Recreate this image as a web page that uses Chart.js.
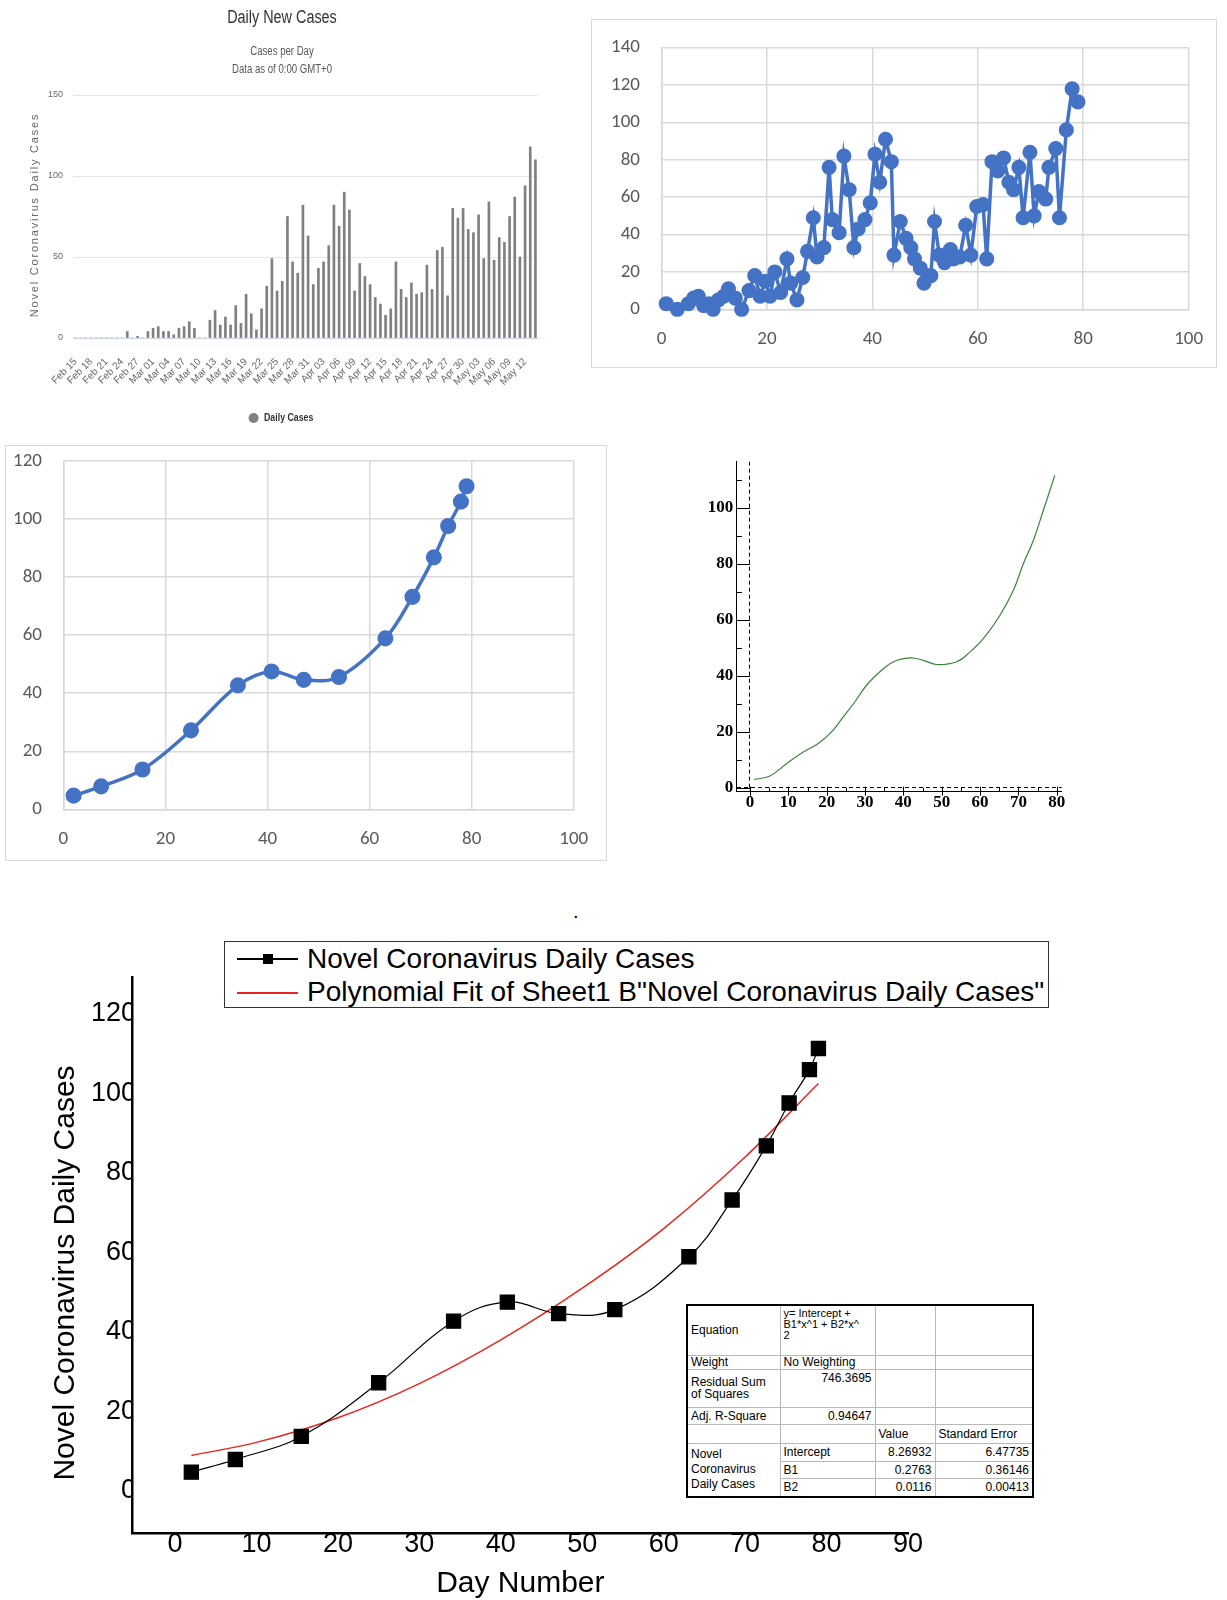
<!DOCTYPE html>
<html>
<head>
<meta charset="utf-8">
<title>Novel Coronavirus Daily Cases</title>
<script src="https://cdn.jsdelivr.net/npm/chart.js@4.4.1/dist/chart.umd.min.js"></script>
<style>
  html, body { margin: 0; padding: 0; background: #fff; }
  #page { position: relative; width: 1227px; height: 1600px; overflow: hidden; font-family: 'Liberation Sans', Arial, sans-serif; }
  .abs { position: absolute; }
  .frame { position: absolute; border: 1px solid #d9d9d9; }
  .frame canvas { display: block; }
  #fitLegend { left: 224px; top: 941px; width: 823px; height: 65px; border: 1.5px solid #333; background: #fff; }
  #fitLegend .keyLine { position: absolute; left: 12px; width: 61px; height: 1.5px; }
  #fitLegend .keyMark { position: absolute; left: 38px; width: 10px; height: 10px; background: #000; }
  #fitLegend .keyText { position: absolute; left: 82px; font-size: 28px; line-height: 30px; color: #000; white-space: nowrap; }
  #fitTable { left: 686px; top: 1304px; width: 346px; border-collapse: collapse; table-layout: fixed;
              border: 2px solid #000; background: #fff; font-size: 12px; color: #000; }
  #fitTable td { border: 1px solid #b8b8b8; padding: 0 3px; line-height: 12px; white-space: nowrap; overflow: hidden; vertical-align: middle; }
  #fitTable td.num { text-align: right; }
  #fitTable td.top { vertical-align: top; padding-top: 2px; }
</style>
</head>
<body>
<div id="page">
  <canvas id="barChart" class="abs" style="left:0;top:0" width="560" height="434"></canvas>

  <div class="frame" style="left:591px;top:19px">
    <canvas id="scatterChart" width="624" height="347"></canvas>
  </div>

  <div class="frame" style="left:5px;top:445px">
    <canvas id="smoothChart" width="600" height="414"></canvas>
  </div>

  <canvas id="curveChart" class="abs" style="left:690px;top:450px" width="380" height="370"></canvas>

  <span class="abs" style="left:573px;top:900px;font-size:20px">.</span>

  <canvas id="fitChart" class="abs" style="left:0;top:900px" width="1227" height="700"></canvas>

  <div id="fitLegend" class="abs">
    <span class="keyLine" style="top:16px;background:#000"></span>
    <span class="keyMark" style="top:12px"></span>
    <span class="keyText" style="top:2px">Novel Coronavirus Daily Cases</span>
    <span class="keyLine" style="top:50px;background:#e8261f"></span>
    <span class="keyText" style="top:35px">Polynomial Fit of Sheet1 B"Novel Coronavirus Daily Cases"</span>
  </div>

  <table id="fitTable" class="abs">
    <colgroup><col style="width:93px"><col style="width:95px"><col style="width:60px"><col style="width:98px"></colgroup>
    <tr style="height:50px"><td>Equation</td><td class="top" style="font-size:11px;line-height:11px">y= Intercept +<br>B1*x^1 + B2*x^<br>2</td><td></td><td></td></tr>
    <tr style="height:14px"><td>Weight</td><td>No Weighting</td><td></td><td></td></tr>
    <tr style="height:38px"><td>Residual Sum<br>of Squares</td><td class="num top">746.3695</td><td></td><td></td></tr>
    <tr style="height:17px"><td>Adj. R-Square</td><td class="num">0.94647</td><td></td><td></td></tr>
    <tr style="height:19px"><td></td><td></td><td>Value</td><td>Standard Error</td></tr>
    <tr style="height:18px"><td rowspan="3" style="line-height:15px">Novel<br>Coronavirus<br>Daily Cases</td><td>Intercept</td><td class="num">8.26932</td><td class="num">6.47735</td></tr>
    <tr style="height:17px"><td>B1</td><td class="num">0.2763</td><td class="num">0.36146</td></tr>
    <tr style="height:19px"><td>B2</td><td class="num">0.0116</td><td class="num">0.00413</td></tr>
  </table>
</div>

<script>
// daily new cases, Feb 15 - May 14
const monthRanges = [['Feb', 15, 29], ['Mar', 1, 31], ['Apr', 1, 30], ['May', 1, 14]];
const dayLabels = [];
monthRanges.forEach(([month, first, last]) => {
  for (let d = first; d <= last; d++) dayLabels.push(month + ' ' + String(d).padStart(2, '0'));
});

const dailyCases = [
  0, 0, 0, 0, 0, 0, 0, 0, 0, 0,
  4, 0, 1, 0, 4, 6, 7, 4, 4, 2,
  6, 7, 10, 6, 0, 0, 11, 17, 8, 13,
  8, 20, 9, 27, 15, 5, 18, 32, 49, 29,
  35, 75, 47, 40, 82, 63, 33, 43, 47, 57,
  82, 69, 90, 79, 29, 46, 38, 33, 25, 21,
  14, 18, 47, 30, 25, 34, 27, 28, 45, 30,
  54, 56, 26, 80, 74, 80, 67, 65, 76, 49,
  84, 48, 62, 59, 75, 87, 50, 94, 118, 110
];

// cases against day number
const scatterDays = [
  0.9, 3.0, 5.1, 6.1, 7.0, 8.0, 9.0, 9.8, 10.8, 11.8,
  12.7, 14.0, 15.2, 16.6, 17.7, 18.7, 19.7, 20.6, 21.5, 22.6,
  23.8, 24.5, 25.7, 26.8, 27.7, 28.8, 29.5, 30.8, 31.8, 32.4,
  33.7, 34.6, 35.6, 36.5, 37.3, 38.6, 39.6, 40.5, 41.4, 42.5,
  43.6, 44.1, 45.3, 46.4, 47.3, 48.0, 49.1, 49.8, 51.1, 51.8,
  52.7, 53.7, 54.8, 55.4, 56.6, 57.7, 58.7, 59.8, 61.0, 61.7,
  62.7, 63.8, 64.9, 65.9, 66.8, 67.8, 68.6, 69.9, 70.7, 71.6,
  72.9, 73.5, 74.8, 75.5, 76.8, 77.9, 79.0
];
const scatterCases = [
  3, 0, 3, 6, 7, 2, 3, 0, 5, 7,
  11, 6, 0, 10, 18, 7, 15, 7, 20, 9,
  27, 14, 5, 17, 31, 49, 28, 33, 76, 48,
  41, 82, 64, 33, 43, 48, 57, 83, 68, 91,
  79, 29, 47, 38, 33, 27, 22, 14, 18, 47,
  29, 25, 32, 27, 28, 45, 29, 55, 56, 27,
  79, 74, 81, 68, 64, 76, 49, 84, 50, 63,
  59, 76, 86, 49, 96, 118, 111
];

// smoothed sample points (used by the smooth line and the fit plot)
const sampleDays = [2, 7.4, 15.5, 25, 34.2, 40.8, 47.1, 54, 63.1, 68.4, 72.6, 75.4, 77.9, 79];
const sampleCases = [4.7, 7.9, 13.7, 27.2, 42.7, 47.5, 44.6, 45.6, 58.9, 73.2, 86.8, 97.6, 106, 111.3];

// green trend curve
const curveDays = [1.1, 5.2, 9.6, 13.9, 17.8, 21.7, 24.3, 27, 30.4, 33.9, 37.4, 41.7, 45.2, 48.7, 53.9, 57.4, 60.9, 65.2, 68.7, 71.3, 73.9, 76.5, 79.5];
const curveCases = [3, 4.2, 8.7, 12.8, 15.8, 20.6, 25.3, 30, 36.6, 41.4, 45, 46.4, 45.5, 44, 45, 48.5, 53.3, 61.6, 70.5, 80, 88.3, 99, 111.5];

// polynomial fit line
const fitDays = [2, 10, 20, 30, 40, 50, 60, 70, 79];
const fitCases = [8.9, 12.2, 18.4, 27, 38, 51, 66, 84, 102.5];

// tick values
const curveXTicks = [0, 10, 20, 30, 40, 50, 60, 70, 80];
const curveYTicks = [0, 20, 40, 60, 80, 100];
const fitXTicks = [0, 10, 20, 30, 40, 50, 60, 70, 80, 90];
const fitYTicks = [0, 20, 40, 60, 80, 100, 120];

const points = (xs, ys) => xs.map((x, i) => ({ x: x, y: ys[i] }));

Chart.defaults.animation = false;
Chart.defaults.responsive = false;
Chart.defaults.events = [];
Chart.defaults.font.family = "'Liberation Sans', Arial, sans-serif";
Chart.defaults.plugins.legend.display = false;
Chart.defaults.plugins.tooltip.enabled = false;

const sans = "'Liberation Sans', Arial, sans-serif";
const excelFont = "Carlito, Lato, 'Liberation Sans', sans-serif";
const blue = '#4472c4';

// fixed axis sizes, so the plot area is set by layout padding only
const fixY = w => s => { s.width = w; s.paddingTop = 0; s.paddingBottom = 0; };
const fixX = h => s => { s.height = h; s.paddingLeft = 0; s.paddingRight = 0; };

// free text (titles, legend) at set spots; sx squeezes glyphs for a narrow face
const freeText = {
  id: 'freeText',
  afterDraw(chart, args, opts) {
    const ctx = chart.ctx;
    (opts.items || []).forEach(t => {
      ctx.save();
      ctx.translate(t.x, t.y);
      ctx.fillStyle = t.color || '#000';
      if (t.dot) {
        ctx.beginPath();
        ctx.arc(0, 0, t.dot, 0, Math.PI * 2);
        ctx.fill();
      } else {
        ctx.font = t.font;
        ctx.textAlign = t.align || 'center';
        ctx.textBaseline = 'middle';
        if (t.spacing) ctx.letterSpacing = t.spacing;
        if (t.rotate) ctx.rotate(t.rotate);
        ctx.scale(t.sx || 1, 1);
        ctx.fillText(t.text, 0, 0);
      }
      ctx.restore();
    });
  }
};

// 1. bar chart
new Chart(document.getElementById('barChart'), {
  type: 'bar',
  data: {
    labels: dayLabels,
    datasets: [{ label: 'Daily Cases', data: dailyCases, backgroundColor: '#808080', barThickness: 2 }]
  },
  options: {
    layout: { padding: { left: 0, right: 22, top: 95, bottom: 31 } },
    plugins: {
      freeText: {
        items: [
          { text: 'Daily New Cases', x: 282, y: 18, font: '18px ' + sans, color: '#333', sx: 0.8 },
          { text: 'Cases per Day', x: 282, y: 52, font: '12px ' + sans, color: '#555', sx: 0.8 },
          { text: 'Data as of 0:00 GMT+0', x: 282, y: 70, font: '12px ' + sans, color: '#555', sx: 0.8 },
          { text: 'Novel Coronavirus Daily Cases', x: 35, y: 215, rotate: -Math.PI / 2,
            font: '11px ' + sans, color: '#666', spacing: '1.8px' },
          { dot: 5, x: 253.6, y: 418, color: '#808080' },
          { text: 'Daily Cases', x: 264, y: 418, align: 'left', font: 'bold 11px ' + sans, color: '#333', sx: 0.8 }
        ]
      }
    },
    scales: {
      x: {
        grid: { display: false },
        border: { color: '#ccd6eb' },
        ticks: {
          autoSkip: false, minRotation: 45, maxRotation: 45, padding: 10,
          color: '#666', font: { size: 10 },
          callback: (v, i) => (i % 3 === 0 ? dayLabels[i] : '')
        },
        afterFit: fixX(65)
      },
      y: {
        min: 0, max: 150,
        ticks: { stepSize: 50, padding: 10, color: '#666', font: { size: 9 } },
        grid: { color: c => (c.tick && c.tick.value === 0 ? '#ccd6eb' : '#e6e6e6'), drawTicks: false },
        border: { display: false },
        afterFit: fixY(73)
      }
    }
  },
  plugins: [freeText]
});

// Excel-style axes shared by the two blue charts
const excelGrid = { color: '#d9d9d9', lineWidth: 1.5, drawTicks: false };
const excelBorder = { color: '#d9d9d9', width: 1.5 };
const excelTicks = { color: '#595959', font: { family: excelFont, size: 19 } };

// 2. raw daily cases by day number
new Chart(document.getElementById('scatterChart'), {
  type: 'scatter',
  data: {
    datasets: [{
      data: points(scatterDays, scatterCases), showLine: true,
      borderColor: blue, backgroundColor: blue, borderWidth: 3.5, pointRadius: 5.8, clip: false
    }]
  },
  options: {
    layout: { padding: { left: 0, right: 27.4, top: 27.7, bottom: 0 } },
    scales: {
      x: {
        type: 'linear', min: 0, max: 100,
        ticks: Object.assign({ stepSize: 20, padding: 18.3 }, excelTicks),
        grid: excelGrid, border: excelBorder,
        afterFit: fixX(57.7)
      },
      y: {
        min: 0, max: 140,
        ticks: Object.assign({ stepSize: 20, padding: 21.5 }, excelTicks),
        grid: excelGrid, border: excelBorder,
        afterFit: fixY(69.5)
      }
    }
  }
});

// 3. smoothed line with markers
new Chart(document.getElementById('smoothChart'), {
  type: 'scatter',
  data: {
    datasets: [{
      data: points(sampleDays, sampleCases), showLine: true, tension: 0.35,
      borderColor: blue, backgroundColor: blue, borderWidth: 3.5, pointRadius: 6.3, clip: false
    }]
  },
  options: {
    layout: { padding: { left: 0, right: 32.3, top: 15, bottom: 0 } },
    scales: {
      x: {
        type: 'linear', min: 0, max: 100,
        ticks: Object.assign({ stepSize: 20, padding: 18.3 }, excelTicks),
        grid: excelGrid, border: excelBorder,
        afterFit: fixX(50.7)
      },
      y: {
        min: 0, max: 120,
        ticks: Object.assign({ stepSize: 20, padding: 21.4 }, excelTicks),
        grid: excelGrid, border: excelBorder,
        afterFit: fixY(57.4)
      }
    }
  }
});

// 4. green trend curve, dashed zero lines and inward tick marks
const zeroOnly = c => (c.tick && c.tick.value === 0 ? '#000' : 'rgba(0,0,0,0)');
const serifBold = { family: "'Liberation Serif', 'Times New Roman', serif", size: 17, weight: 'bold', lineHeight: 1 };

const tickMarks = {
  id: 'tickMarks',
  afterDraw(chart) {
    const { ctx, chartArea: a, scales: { x, y } } = chart;
    const x0 = x.getPixelForValue(0);
    ctx.save();
    ctx.strokeStyle = '#000';
    ctx.lineWidth = 1;
    ctx.beginPath();
    curveXTicks.forEach(v => {
      const px = Math.round(x.getPixelForValue(v)) + 0.5;
      ctx.moveTo(px, a.bottom - 5);
      ctx.lineTo(px, a.bottom + 4);
      if (v < 80) {
        const mx = Math.round(x.getPixelForValue(v + 5)) + 0.5;
        ctx.moveTo(mx, a.bottom);
        ctx.lineTo(mx, a.bottom - 4);
      }
    });
    curveYTicks.forEach(v => {
      const py = Math.round(y.getPixelForValue(v)) + 0.5;
      ctx.moveTo(a.left, py);
      ctx.lineTo(x0, py);
      const my = Math.round(y.getPixelForValue(v + 10)) + 0.5;
      ctx.moveTo(a.left, my);
      ctx.lineTo(a.left + 6, my);
    });
    ctx.stroke();
    ctx.restore();
  }
};

new Chart(document.getElementById('curveChart'), {
  type: 'scatter',
  data: {
    datasets: [{
      data: points(curveDays, curveCases), showLine: true, tension: 0.4,
      borderColor: '#3a843a', borderWidth: 1.2, pointRadius: 0
    }]
  },
  options: {
    layout: { padding: { left: 0, right: 8.3, top: 11.7, bottom: 0 } },
    scales: {
      x: {
        type: 'linear', min: -3.65, max: 81.3,
        afterBuildTicks: s => { s.ticks = curveXTicks.map(v => ({ value: v })); },
        ticks: { padding: 2, color: '#000', font: serifBold },
        grid: { color: zeroOnly, drawTicks: false },
        border: { color: '#000', width: 1, dash: [4, 3] },
        afterFit: fixX(28.3)
      },
      y: {
        min: -1.4, max: 116.4,
        afterBuildTicks: s => { s.ticks = curveYTicks.map(v => ({ value: v })); },
        ticks: { padding: 2.7, color: '#000', font: serifBold },
        grid: { color: zeroOnly, drawTicks: false },
        border: { color: '#000', width: 1, dash: [4, 3] },
        afterFit: fixY(46)
      }
    }
  },
  plugins: [tickMarks]
});

// 5. data with polynomial fit
const bigTicks = { color: '#000', font: { size: 27, lineHeight: 1 } };

new Chart(document.getElementById('fitChart'), {
  type: 'scatter',
  data: {
    datasets: [
      {
        label: 'Novel Coronavirus Daily Cases',
        data: points(sampleDays, sampleCases), showLine: true, tension: 0.4,
        borderColor: '#000', backgroundColor: '#000', borderWidth: 1.2,
        pointStyle: 'rect', pointRadius: 10, clip: false
      },
      {
        label: 'Polynomial Fit of Sheet1 B"Novel Coronavirus Daily Cases"',
        data: points(fitDays, fitCases), showLine: true, cubicInterpolationMode: 'monotone',
        borderColor: '#e8261f', borderWidth: 1.5, pointRadius: 0
      }
    ]
  },
  options: {
    layout: { padding: { left: 0, right: 319, top: 77, bottom: 0 } },
    plugins: {
      freeText: {
        items: [
          { text: 'Novel Coronavirus Daily Cases', x: 66, y: 373, rotate: -Math.PI / 2, font: '30px ' + sans }
        ]
      }
    },
    scales: {
      x: {
        type: 'linear', min: -5.2, max: 90,
        afterBuildTicks: s => { s.ticks = fitXTicks.map(v => ({ value: v })); },
        ticks: Object.assign({ padding: -2.4 }, bigTicks),
        grid: { display: false, drawTicks: false },
        border: { color: '#000', width: 2.5 },
        title: {
          display: true, text: 'Day Number', color: '#000',
          font: { size: 30, lineHeight: 1 }, padding: { top: 0, bottom: 1 }
        },
        afterFit: fixX(67)
      },
      y: {
        min: -10.6, max: 129.3,
        afterBuildTicks: s => { s.ticks = fitYTicks.map(v => ({ value: v })); },
        ticks: Object.assign({ padding: -3.3 }, bigTicks),
        grid: { display: false, drawTicks: false },
        border: { color: '#000', width: 2.5 },
        afterFit: fixY(132.7)
      }
    }
  },
  plugins: [freeText]
});
</script>
</body>
</html>
